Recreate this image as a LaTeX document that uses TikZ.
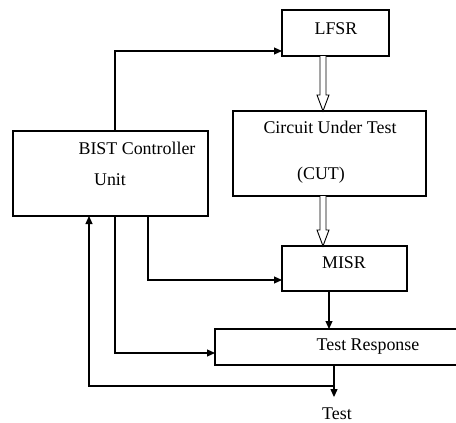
\documentclass[tikz,border=0pt]{standalone}
\usepackage{fontspec}
\setmainfont{Liberation Serif}
\usetikzlibrary{arrows.meta,calc}
\begin{document}
\begin{tikzpicture}[x=1pt,y=-1pt,
  box/.style={draw,line width=1.2pt,rectangle,inner sep=0pt,outer sep=0pt},
  lbl/.style={inner sep=0pt,font=\fontsize{17.9}{21}\selectfont},
  arr/.style={line width=1.2pt,-{Triangle[length=8pt,width=7pt]}},
  hollow/.style={line width=0.9pt,fill=white}]
\useasboundingbox (0,0) rectangle (456,423);
% boxes
\node[box,minimum width=107pt,minimum height=46pt] (lfsr) at (335.5,33) {};
\node[box,minimum width=193pt,minimum height=85pt] (cut) at (329.5,153.5) {};
\node[box,minimum width=195pt,minimum height=85pt] (bist) at (110.5,173.5) {};
\node[box,minimum width=125pt,minimum height=45pt] (misr) at (344.5,268.5) {};
\node[box,minimum width=255pt,minimum height=36pt] (resp) at (342.5,347) {};
% labels
\node[lbl] (tlfsr) at (336,29) {LFSR};
\node[lbl] (tcut1) at (330,127) {Circuit Under Test};
\node[lbl] (tcut2) at (321,175) {(CUT)};
\node[lbl] (tbist1) at (137,148) {BIST Controller};
\node[lbl] (tbist2) at (110,180) {Unit};
\node[lbl] (tmisr) at (344,263) {MISR};
\node[lbl] (tresp) at (368,347) {Test Response};
\node[lbl,anchor=base] (test) at (337,419) {Test};
% coordinates
\coordinate (a1) at ($(lfsr.south west)+(41,0)$);
\coordinate (b1) at (a1 |- cut.north);
\coordinate (a2) at (a1 |- cut.south);
\coordinate (b2) at (a1 |- misr.north);
\coordinate (ms) at ($(misr.south west)+(47,0)$);
\coordinate (rb) at ($(resp.south west)+(119,0)$);
% hollow arrows
\draw[hollow] let \p1=(a1), \p2=(b1) in
  (\x1-3pt,\y1) -- (\x1-3pt,\y2+16pt) -- (\x1-6pt,\y2+16pt) -- (\x2,\y2)
  -- (\x1+6pt,\y2+16pt) -- (\x1+3pt,\y2+16pt) -- (\x1+3pt,\y1);
\draw[hollow] let \p1=(a2), \p2=(b2) in
  (\x1-3pt,\y1) -- (\x1-3pt,\y2+16pt) -- (\x1-6pt,\y2+16pt) -- (\x2,\y2)
  -- (\x1+6pt,\y2+16pt) -- (\x1+3pt,\y2+16pt) -- (\x1+3pt,\y1);
% connectors
\draw[arr] ($(bist.north west)+(102,0)$) |- ($(lfsr.south west)+(0,-5)$);
\draw[arr] ($(bist.south west)+(135,0)$) |- ($(misr.south west)+(0,-11)$);
\draw[arr] (ms) -- (ms |- resp.north);
\draw[arr] ($(bist.south west)+(102,0)$) |- ($(resp.south west)+(0,-12)$);
\draw[arr] (rb) -- ($(rb |- test.north)+(0,-10)$);
\draw[arr] ($(rb)+(0,21)$) -| ($(bist.south west)+(76,0)$);
\end{tikzpicture}
\end{document}
